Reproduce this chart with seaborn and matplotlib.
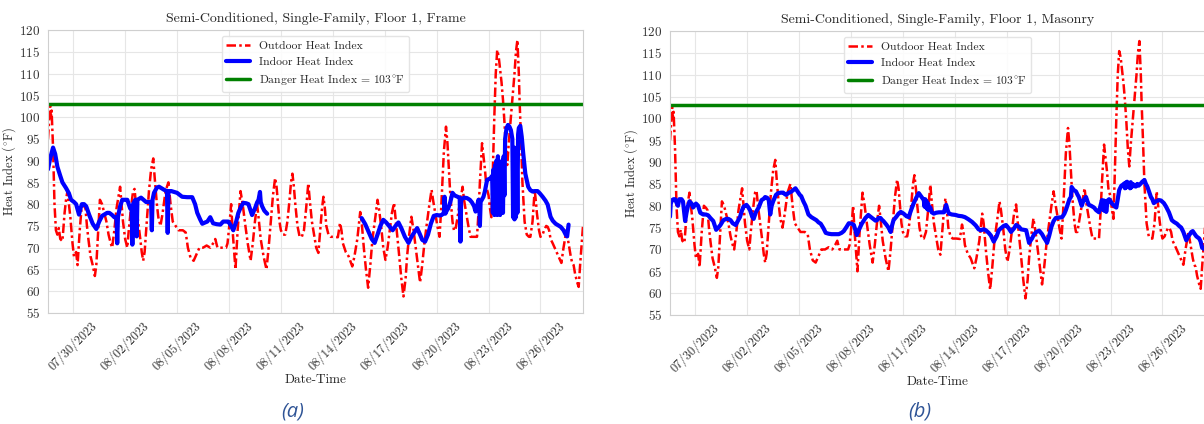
import numpy as np
import pandas as pd
import matplotlib
matplotlib.use("Agg")
import matplotlib.pyplot as plt
import matplotlib.dates as mdates
import seaborn as sns

# Hours since 2023-07-28 00:00 and heat index (°F)
START = pd.Timestamp("2023-07-28 00:00")

outdoor_hours = [
    13, 15, 16, 17, 18, 20, 22, 24, 26, 28, 30, 33, 36, 38, 40, 42, 44, 47, 49, 52,
    54, 57, 60, 63, 65, 67, 69, 72, 75, 78, 80, 82, 85, 88, 91, 94, 97, 100, 102, 105,
    108, 111, 113, 115, 117, 120, 123, 125, 128, 131, 133, 135, 138, 141, 143, 145, 147, 150, 153, 156,
    159, 161, 164, 166, 169, 172, 176, 180, 183, 186, 190, 194, 200, 204, 207, 211, 215, 219, 223, 228,
    233, 238, 242, 245, 248, 254, 260, 262, 265, 267, 269, 273, 276, 280, 283, 286, 290, 294, 297, 300,
    303, 305, 308, 312, 316, 319, 322, 325, 328, 330, 332, 334, 336, 339, 342, 345, 348, 350, 352, 354,
    356, 359, 362, 365, 368, 371, 374, 376, 379, 382, 385, 388, 391, 393, 395, 397, 399, 402, 405, 410,
    415, 418, 420, 422, 426, 430, 435, 438, 442, 446, 448, 451, 454, 457, 460, 463, 467, 470, 472, 475,
    478, 481, 484, 487, 490, 493, 496, 499, 503, 506, 509, 511, 514, 517, 520, 523, 526, 529, 532, 535,
    538, 542, 545, 547, 550, 553, 556, 558, 560, 562, 565, 567, 569, 571, 574, 576, 578, 581, 584, 588,
    590, 593, 596, 599, 603, 608, 610, 612, 615, 617, 619, 621, 624, 626, 628, 630, 632, 634, 636, 638,
    640, 642, 644, 646, 648, 650, 652, 655, 657, 660, 662, 664, 666, 667, 669, 671, 674, 677, 680, 682,
    685, 688, 690, 691, 694, 696, 699, 701, 704, 706, 708, 710, 713, 717, 721, 725, 728, 732, 735, 738,
    740, 742, 744, 747, 749, 751, 755,
]
outdoor_hi = [
    95, 100, 102.5, 100, 101.5, 93, 80, 74, 73, 74.5, 72, 71.5, 78, 81, 83, 80, 77, 71, 68, 69,
    66, 74, 80, 79.5, 79, 75, 72, 68, 66, 63.5, 66, 72, 81, 80, 78, 76, 73, 71, 70, 74,
    79, 82, 84, 80, 76, 72, 70, 74, 79, 83, 83.5, 80, 76, 72, 69, 67, 69, 76, 83, 88,
    90.5, 86, 80, 77, 75, 78, 83, 85, 80, 76, 75, 74, 74, 73.5, 70, 67.5, 67, 68.5, 70, 70,
    70.5, 70, 71, 72, 70, 70, 70, 71, 76, 80, 74, 65, 74, 83, 80, 76, 71, 67, 71, 76,
    80, 77, 72, 68, 65, 70, 76, 82, 86, 84, 80, 76, 74, 73, 73, 76, 81, 85, 87, 84,
    80, 75, 72.5, 72.5, 74, 79, 84.8, 81, 76, 73, 70, 68.8, 75, 79, 81.7, 79, 75, 73, 72.5, 72.5,
    72.4, 75.7, 74, 71, 69, 68, 65.7, 68, 72, 78.2, 76, 70, 65, 60.8, 66, 72, 77, 81, 79, 75,
    70, 67.2, 70, 74, 78, 80.3, 75, 70, 63, 58.8, 63, 68, 73, 77.1, 74, 70, 66, 62, 66, 71,
    75, 80, 83.3, 81, 78, 75, 72.5, 78, 85, 92, 97.8, 94, 88, 82, 76, 74, 74, 77, 80, 84,
    81, 78, 75, 72.5, 72.5, 72.5, 78, 85, 94, 91, 88, 84, 82, 79, 77, 88, 100, 110, 115.4, 114,
    111, 108, 104, 99, 93, 89, 94, 100, 104, 110, 115, 117.7, 110, 104, 95, 85, 76, 73, 72.5, 72.5,
    76, 83.3, 80, 78, 74, 72.5, 73, 74, 75, 74.8, 74, 72, 71, 69.5, 68, 66.5, 70, 74, 71, 68,
    66.5, 66, 64, 62, 61, 66, 75,
]

# Indoor, frame construction (NaN marks the logger gap)
frame_hours = [
    13, 16, 20, 23, 26, 30, 33, 38, 42, 45, 49, 52, 56, 58, 60, 63, 66, 70, 75, 80,
    84, 88, 91, 95, 98, 102, 105, 108, 109, 110, 113, 116, 120, 123, 127, 129, 130, 131, 134, 135,
    136, 137, 142, 149, 156, 157, 158, 160, 164, 167, 171, 174, 178, 179, 180, 184, 188, 192, 199, 206,
    213, 217, 220, 224, 227, 231, 234, 238, 242, 247, 252, 256, 260, 263, 267, 270, 274, 277, 281, 284,
    288, 291, 294, 296, 300, 303, 305, 307, 308, 310, 313, 317, 380,
    448, 453, 458, 462, 466, 470, 474, 478, 482, 486, 491, 495, 499, 503, 508, 513, 517, 521, 525, 529,
    532, 536, 540, 544, 548, 552, 556, 559, 562, 563, 564, 566, 568, 571, 574, 577, 581, 584, 585, 586,
    590, 594, 598, 601, 604, 606, 608, 610, 611, 612, 613, 617, 619, 622, 625, 627, 629, 630, 631, 632,
    633, 634, 635, 636, 637, 638, 639, 640, 641, 642, 643, 644, 645, 646, 647, 649, 651, 653, 655, 657,
    658, 659, 660, 661, 662, 663, 664, 665, 666, 668, 670, 672, 675, 679, 682, 685, 688, 692, 695, 699,
    703, 706, 710, 713, 717, 720, 724, 728, 731, 733, 735,
]
frame_hi = [
    88, 90.5, 93, 91.5, 88.6, 86.5, 85, 83.7, 82.5, 81, 80.5, 80, 77.6, 79, 80, 80, 79.5, 77.6, 75.5, 74.3,
    76, 77.3, 77.6, 78, 78, 77.5, 77, 77, 71, 77, 79.5, 81, 81, 81, 79, 79.5, 70.7, 80, 81, 81,
    72.6, 81, 81.5, 80.5, 80.5, 74, 81, 82.6, 83.8, 84, 83.6, 83.3, 83, 73.4, 83, 83, 82.8, 82.6, 81.7, 81.6,
    81.6, 80, 78, 76.5, 75.5, 75.8, 76, 77, 75.6, 75.4, 75.3, 76, 76, 76, 75, 74, 76, 78, 79.5, 80.3,
    80.2, 80, 78.5, 77.5, 79, 80.4, 81, 82.8, 80.5, 79.5, 78.5, 77.8, np.nan,
    76.8, 75.4, 73.5, 72, 71.1, 73, 75, 76.4, 75.8, 75, 74, 75, 75.8, 74.5, 72.5, 71.1, 72.5, 73.5, 74.5, 73,
    71.8, 71.4, 73, 75.5, 77.3, 77.5, 77.4, 77.5, 78, 81.7, 77.8, 78.5, 79, 80.5, 82.6, 82, 81.7, 81.5, 71.4, 81,
    81.5, 81.4, 81, 80.4, 79.5, 78.3, 79.5, 81, 80.5, 75, 80.5, 81.7, 83, 85.6, 85.8, 86, 86.5, 78, 88, 77.5,
    89, 78, 90, 77.5, 91, 78, 89, 77.5, 88, 78, 90, 78, 91, 82, 95, 97.5, 98.2, 97.8, 97, 95,
    77, 93, 76.5, 91, 77, 93, 78, 96, 97.5, 98, 95.5, 91.8, 87, 84, 83.2, 82.9, 83, 83, 82.5, 81.7,
    80.8, 79.9, 77.1, 76.2, 75.5, 75.2, 74.8, 74, 73, 72.6, 75.3,
]

# Indoor, masonry construction
masonry_hours = [
    13, 14, 16, 18, 20, 24, 26, 29, 31, 34, 36, 38, 40, 43, 45, 49, 52, 55, 59, 63,
    66, 69, 73, 77, 80, 83, 87, 91, 94, 97, 100, 104, 107, 110, 113, 115, 119, 121, 124, 127,
    129, 132, 136, 140, 143, 145, 148, 150, 152, 154, 156, 160, 163, 167, 170, 172, 174, 178, 181, 184,
    187, 189, 191, 193, 195, 198, 201, 205, 209, 213, 216, 219, 222, 226, 229, 233, 237, 242, 247, 251,
    254, 258, 261, 265, 268, 270, 272, 275, 279, 282, 284, 288, 291, 295, 298, 300, 302, 305, 307, 309,
    313, 316, 319, 321, 323, 327, 330, 333, 337, 341, 344, 348, 351, 355, 358, 361, 365, 366, 367, 368,
    369, 370, 371, 372, 374, 376, 379, 382, 386, 389, 393, 396, 398, 400, 404, 409, 413, 418, 422, 427,
    432, 437, 441, 444, 448, 451, 455, 458, 462, 466, 469, 473, 476, 479, 483, 486, 490, 493, 497, 500,
    504, 507, 509, 511, 515, 518, 521, 525, 529, 532, 534, 536, 539, 542, 545, 548, 552, 557, 560, 562,
    565, 567, 569, 570, 573, 576, 578, 580, 582, 584, 586, 588, 590, 592, 594, 597, 601, 604, 608, 610,
    612, 614, 615, 616, 617, 618, 620, 622, 624, 626, 629, 632, 634, 636, 639, 641, 643, 644, 645, 646,
    647, 648, 649, 650, 651, 652, 653, 655, 657, 659, 661, 663, 666, 668, 671, 673, 675, 678, 680, 682,
    684, 687, 691, 694, 698, 701, 705, 709, 712, 716, 719, 722, 725, 729, 732, 736, 738, 740, 743, 747,
    749, 751, 755,
]
masonry_hi = [
    77.5, 80.5, 81.3, 81.5, 81.5, 80, 81.5, 81.5, 81, 76.5, 78.5, 80, 81, 80.5, 79.6, 80.5, 80, 78.4, 78, 78,
    77.8, 77.2, 76.5, 74.5, 75, 75.6, 76.7, 77, 77, 76.7, 76, 75.6, 76.5, 77.4, 79, 79.8, 80.2, 79.8, 79, 77.5,
    77, 78.5, 79.6, 81.3, 81.6, 82, 81.8, 81.3, 78, 80, 81, 82.5, 82.9, 83, 83, 82.7, 82.5, 83, 83.2, 83.6,
    84, 83.5, 83, 82.5, 82.2, 81, 80, 78, 77.4, 77, 76.7, 76.2, 75.9, 74.8, 73.8, 73.6, 73.5, 73.5, 73.5, 73.8,
    74.2, 75.2, 76, 75.9, 75.6, 74.5, 73.3, 74.5, 75.9, 76.7, 77.2, 77.9, 77.5, 77, 76.6, 76.7, 77.2, 77.2, 76.8, 76.5,
    75.7, 75, 74, 75.5, 76.7, 77.5, 78.2, 78.6, 78.2, 77.6, 77.4, 79.3, 80.6, 82, 82.9, 82.2, 81.3, 79.8, 81.5, 79.6,
    81, 79.2, 80.5, 79, 79.6, 78.5, 78.2, 78.4, 78.5, 78.5, 78.5, 80.2, 79, 78.2, 78, 77.9, 77.7, 77.6, 77.4, 76.9,
    76.3, 75.5, 74.6, 74.4, 74.6, 74.4, 73.8, 73.2, 71.8, 73, 74.4, 75, 75.4, 75.6, 74.8, 74, 74.8, 75.6, 75.2, 74.6,
    74.5, 74.4, 73, 71.5, 72.5, 73.5, 74, 74.3, 73.5, 72.6, 72.1, 71.5, 73.2, 75.2, 76.5, 77.2, 77.3, 77.4, 78.2, 79,
    80.5, 81.5, 82, 84.3, 83.6, 83.3, 82.6, 82, 81, 80, 81, 81.6, 82, 81, 80.2, 80, 79.6, 79, 78.5, 80,
    81.3, 79, 81.2, 78.8, 81, 78.6, 81.2, 81.5, 81, 80.5, 80, 79.6, 81.5, 83.6, 84.6, 84.8, 85.1, 84, 85.3, 84.2,
    85.5, 84.3, 85, 84.8, 84, 85.4, 84.2, 85, 84.5, 84.4, 85, 84.6, 85.1, 85.5, 85.9, 85, 84.4, 83, 82, 81.5,
    80.6, 81, 81.3, 81.2, 80.6, 79.8, 78.5, 76.7, 76.3, 75.9, 75.4, 75, 74, 72.1, 73, 74, 74.2, 73.7, 73, 72.5,
    71.8, 70.4, 70,
]

DANGER_HI = 103
panel_titles = [
    "Semi-Conditioned, Single-Family, Floor 1, Frame",
    "Semi-Conditioned, Single-Family, Floor 1, Masonry",
]
panel_tags = ["(a)", "(b)"]
tick_dates = pd.date_range("2023-07-30", "2023-08-26", freq="3D")
y_ticks = list(range(55, 121, 5))
DEG = r"$^{\circ}$"


def to_frame(hours, values):
    df = pd.DataFrame({
        "time": START + pd.to_timedelta(hours, unit="h"),
        "heat_index": values,
    })
    # separate continuous runs so gaps are not bridged
    df["segment"] = df["heat_index"].isna().cumsum()
    return df.dropna()


outdoor_df = to_frame(outdoor_hours, outdoor_hi)
indoor_dfs = [to_frame(frame_hours, frame_hi), to_frame(masonry_hours, masonry_hi)]

sns.set_style("whitegrid", {"grid.color": "#e6e6e6", "axes.edgecolor": "#cfcfcf"})
plt.rcParams["font.family"] = ["cmr10", "DejaVu Serif"]
plt.rcParams["mathtext.fontset"] = "cm"
plt.rcParams["axes.formatter.use_mathtext"] = True

fig = plt.figure(figsize=(12.04, 4.24), dpi=100)
axes = [
    fig.add_axes([48 / 1204, 111 / 424, 535 / 1204, 283 / 424]),
    fig.add_axes([670 / 1204, 109 / 424, 535 / 1204, 284 / 424]),
]

x0, x1 = outdoor_df["time"].min(), outdoor_df["time"].max()

for ax, indoor_df, title in zip(axes, indoor_dfs, panel_titles):
    sns.lineplot(data=outdoor_df, x="time", y="heat_index", ax=ax, color="red",
                 linewidth=1.8, linestyle=(0, (3.8, 1.3, 1.0, 1.3)),
                 label="Outdoor Heat Index")
    sns.lineplot(data=indoor_df, x="time", y="heat_index", units="segment",
                 estimator=None, ax=ax, color="blue", linewidth=3.0,
                 label="Indoor Heat Index")
    ax.axhline(DANGER_HI, color="green", linewidth=2.5,
               label=f"Danger Heat Index = {DANGER_HI}{DEG}F")

    ax.set_xlim(x0, x1)
    ax.set_ylim(55, 120)
    ax.set_yticks(y_ticks)
    ax.set_xticks(tick_dates)
    ax.xaxis.set_major_formatter(mdates.DateFormatter("%m/%d/%Y"))
    ax.tick_params(axis="x", labelrotation=45, labelsize=9, pad=1, colors="#333333")
    ax.tick_params(axis="y", labelsize=9.5, pad=2, colors="#333333")
    ax.set_xlabel("Date-Time", fontsize=9.5, labelpad=1)
    ax.set_ylabel(f"Heat Index ({DEG}F)", fontsize=9, labelpad=1)
    ax.set_title(title, fontsize=10, pad=6)

    handles, labels = ax.get_legend_handles_labels()
    keep = {}
    for h, l in zip(handles, labels):
        keep.setdefault(l, h)
    ax.legend(list(keep.values()), list(keep.keys()), loc="upper center",
              fontsize=8.4, frameon=True, framealpha=0.85, edgecolor="#e0e0e0")

for tag, xc in zip(panel_tags, [293, 920]):
    fig.text(xc / 1204, 1 - 411 / 424, tag, ha="center", va="center",
             fontsize=14.5, style="italic", color="#2F5496", family="Open Sans")

fig.savefig("out.png", dpi=100)
